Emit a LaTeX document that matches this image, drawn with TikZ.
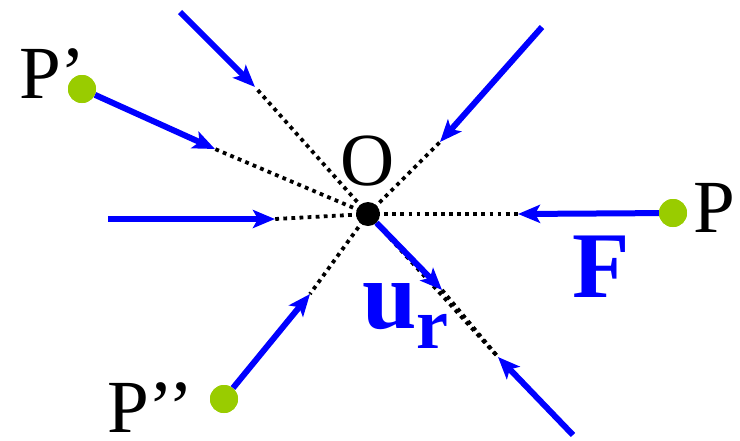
\documentclass[tikz,border=0pt]{standalone}
\usepackage{fontspec}
\setmainfont{Liberation Serif}
\usetikzlibrary{arrows.meta}
\definecolor{ptgreen}{RGB}{153,204,0}

\begin{document}
\begin{tikzpicture}[x=1pt,y=-1pt,>={Stealth[length=22pt,width=18pt,inset=5pt]},
 force/.style={->,blue,line width=6pt},
 ray/.style={black,line width=3.8pt,dash pattern=on 3.8pt off 4.3pt},
 ptdot/.style={circle,fill=ptgreen,inner sep=0,minimum size=28pt},
 ptlab/.style={anchor=base west,inner sep=0,font=\fontsize{75}{80}\selectfont},
 vlab/.style={anchor=base west,inner sep=0,text=blue}]
 \useasboundingbox (0,0) rectangle (740,440);
 % centre and the points
 \node[circle,fill=black,inner sep=0,minimum size=24pt] (O) at (368,214) {};
 \node[ptdot] (P) at (673,213) {};
 \node[ptdot] (P1) at (82,89) {};
 \node[ptdot] (P2) at (224,399) {};
 % free ends of the arrows
 \coordinate (a1) at (180,12);  \coordinate (t1) at (255,87);
 \coordinate (t2) at (215,149);
 \coordinate (a3) at (108,219); \coordinate (t3) at (275,219);
 \coordinate (t4) at (310,294);
 \coordinate (a5) at (542,27);  \coordinate (t5) at (440,142);
 \coordinate (t6) at (518,214);
 \coordinate (a7) at (573,435); \coordinate (t7) at (498,357);
 \coordinate (u) at (442,290);
 % dotted lines to O
 \foreach \t in {t1,t2,t3,t4,t5,t6,t7}
  \draw[ray] (O.center) -- (\t);
 \draw[ray] (u) -- (t7);
 % forces
 \draw[force] (a1) -- (t1);
 \draw[force] (P1) -- (t2);
 \draw[force] (a3) -- (t3);
 \draw[force] (P2) -- (t4);
 \draw[force] (a5) -- (t5);
 \draw[force] (P) -- (t6);
 \draw[force] (a7) -- (t7);
 \draw[force] (O) -- (u);
 % dots on top
 \node[ptdot] at (P) {};
 \node[ptdot] at (P1) {};
 \node[ptdot] at (P2) {};
 % labels
 \node[ptlab] (Olab) at (340,185) {O};
 \node[ptlab] (Plab) at (693,232) {P};
 \node[ptlab] (P1lab) at (19,98) {P’};
 \node[ptlab] (P2lab) at (107,432) {P’’};
 \node[vlab,font=\fontsize{94}{94}\selectfont\bfseries] (Flab) at (572,297) {F};
 \node[vlab,font=\fontsize{98}{98}\selectfont\bfseries] (ulab) at (362,328)
  {u\raisebox{-20pt}{\fontsize{72}{72}\selectfont r}};
\end{tikzpicture}
\end{document}
